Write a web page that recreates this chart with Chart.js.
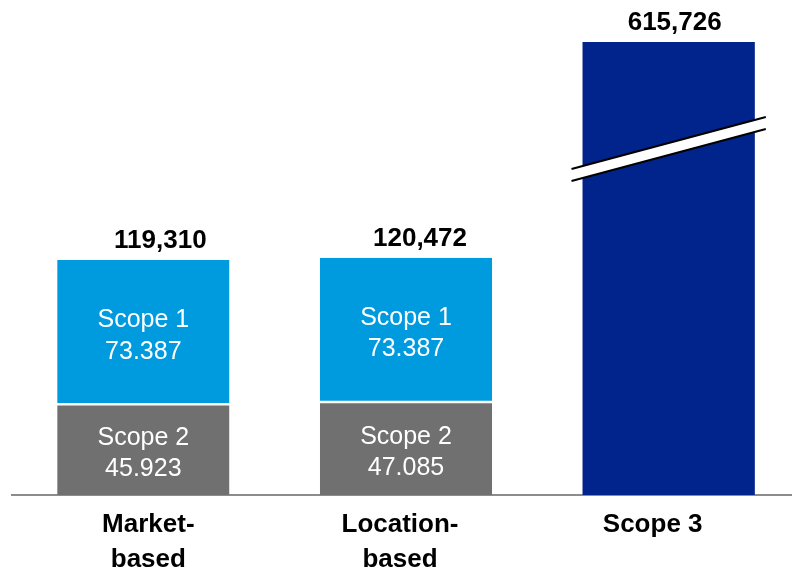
<!DOCTYPE html>
<html><head><meta charset="utf-8">
<script src="https://cdn.jsdelivr.net/npm/chart.js@4"></script>
<style>html,body{margin:0;padding:0;overflow:hidden;background:#fff}#wrap{width:800px;height:568px}</style>
</head><body><div id="wrap"><canvas id="c"></canvas></div>
<script>
// ---- data ----
const categories = [["Market-", "based"], ["Location-", "based"], ["Scope 3"]];
const seriesNames = ["Scope 2", "Scope 1", "Scope 3"];
const scope2Values = [45923, 47085, null];
const scope1Values = [73387, 73387, null];
const scope3Values = [null, null, 615726];
const axisMax = 230000;   // visible top of the (broken) value axis
const axisBreakAt = 175700; // where the Scope 3 bar is broken

// ---- style / layout ----
const FONT = "'Liberation Sans', Arial, Helvetica, sans-serif";
const totalOffsetX = [17, 14, 6];
const catOffsetX = [5, -6, -16];

const fmt = (v, sep) => String(v).replace(/\B(?=(\d{3})+(?!\d))/g, sep);

const labelPlugin = {
  id: 'labels',
  afterDatasetsDraw(chart) {
    const ctx = chart.ctx, area = chart.chartArea;
    const x = chart.scales.x, y = chart.scales.y;
    ctx.save();
    // axis break on Scope 3 bar
    const m3 = chart.getDatasetMeta(2);
    m3.data.forEach((el, i) => {
      if (scope3Values[i] == null) return;
      const yc = y.getPixelForValue(axisBreakAt);
      const half = el.width / 2 + 11, rise = 26, gap = 6;
      const x0 = el.x - half, x1 = el.x + half;
      ctx.fillStyle = '#fff';
      ctx.beginPath();
      ctx.moveTo(x0, yc + rise - gap); ctx.lineTo(x1, yc - rise - gap);
      ctx.lineTo(x1, yc - rise + gap); ctx.lineTo(x0, yc + rise + gap);
      ctx.closePath(); ctx.fill();
      ctx.strokeStyle = '#000'; ctx.lineWidth = 2;
      ctx.beginPath();
      ctx.moveTo(x0, yc + rise - gap); ctx.lineTo(x1, yc - rise - gap);
      ctx.moveTo(x0, yc + rise + gap); ctx.lineTo(x1, yc - rise + gap);
      ctx.stroke();
    });
    // inner segment labels
    ctx.textAlign = 'center';
    ctx.textBaseline = 'alphabetic';
    ctx.fillStyle = '#fff';
    ctx.font = '25px ' + FONT;
    [0, 1].forEach(d => {
      const meta = chart.getDatasetMeta(d);
      const vals = chart.data.datasets[d].data;
      meta.data.forEach((el, i) => {
        if (vals[i] == null) return;
        const c = (el.y + el.base) / 2;
        ctx.fillText(seriesNames[d], el.x, c - 5);
        ctx.fillText(fmt(vals[i], '.'), el.x, c + 26.5);
      });
    });
    // totals
    ctx.fillStyle = '#000';
    ctx.font = 'bold 26px ' + FONT;
    categories.forEach((cat, i) => {
      let total = 0, top = Infinity, cx = x.getPixelForValue(i);
      chart.data.datasets.forEach((ds, d) => {
        const v = ds.data[i];
        if (v == null) return;
        total += v;
        const el = chart.getDatasetMeta(d).data[i];
        top = Math.min(top, el.y);
      });
      top = Math.max(top, area.top);
      ctx.fillText(fmt(total, ','), cx + totalOffsetX[i], top - 12);
    });
    // category labels
    categories.forEach((cat, i) => {
      const cx = x.getPixelForValue(i) + catOffsetX[i];
      cat.forEach((line, k) => ctx.fillText(line, cx, 532 + k * 35));
    });
    ctx.restore();
  }
};

new Chart(document.getElementById('c'), {
  type: 'bar',
  data: {
    labels: categories,
    datasets: [
      { label: seriesNames[0], data: scope2Values, backgroundColor: '#707070',
        borderColor: '#fff', borderWidth: { top: 1, right: 0, bottom: 0, left: 0 }, borderSkipped: false },
      { label: seriesNames[1], data: scope1Values, backgroundColor: '#009ADE',
        borderColor: '#fff', borderWidth: { top: 0, right: 0, bottom: 1.5, left: 0 }, borderSkipped: false },
      { label: seriesNames[2], data: scope3Values, backgroundColor: '#00238C', borderWidth: 0 }
    ]
  },
  options: {
    responsive: true, maintainAspectRatio: false, animation: false,
    layout: { padding: { left: 12, top: 42, right: 0, bottom: 0 } },
    datasets: { bar: { categoryPercentage: 1, barPercentage: 0.656, clip: 0 } },
    plugins: { legend: { display: false }, tooltip: { enabled: false } },
    scales: {
      x: { stacked: true, grid: { display: false, drawTicks: false },
           ticks: { display: false },
           border: { display: true, color: '#8c8c8c', width: 2 },
           afterFit: s => { s.height = 73; } },
      y: { stacked: true, display: false, min: 0, max: axisMax }
    }
  },
  plugins: [labelPlugin]
});
</script></body></html>
